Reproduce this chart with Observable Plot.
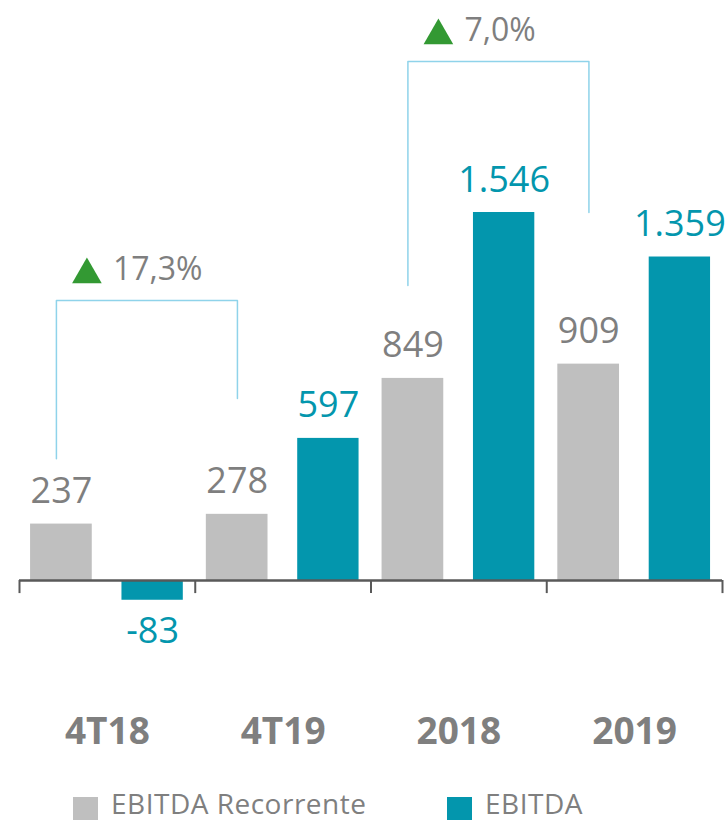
<!DOCTYPE html>
<html>
<head>
<meta charset="utf-8">
<script src="https://cdn.jsdelivr.net/npm/d3@7"></script>
<script src="https://cdn.jsdelivr.net/npm/@observablehq/plot@0.6"></script>
<style>
  html, body { margin: 0; padding: 0; background: #fff; }
  #wrap { position: relative; width: 725px; height: 822px; font-family: "Open Sans", sans-serif; overflow: hidden; }
  #legend { position: absolute; left: 0; top: 792px; height: 22px; width: 725px; }
  .item { position: absolute; top: 0; display: flex; align-items: flex-start; }
  .sw { width: 25px; height: 23px; margin-top: 5px; margin-right: 13px; }
  .lab { font-size: 28px; line-height: 22px; letter-spacing: 0.5px; color: #7f7f7f; white-space: nowrap; }
</style>
</head>
<body>
<div id="wrap">
  <div id="chart"></div>
  <div id="legend"></div>
</div>
<script>
// ---- data ----
const categories = ["4T18", "4T19", "2018", "2019"];
const recorrente = [237, 278, 849, 909];
const ebitda = [-83, 597, 1546, 1359];
const seriesNames = ["EBITDA Recorrente", "EBITDA"];
const seriesColors = ["#bfbfbf", "#0396ad"];
const labelColors = ["#7f7f7f", "#0396ad"];

// growth annotations (brackets)
const growthFrom = ["4T18", "2018"];
const growthTo = ["4T19", "2019"];
const growthLabels = ["17,3%", "7,0%"];
const bracketStartY = [512, 1239];
const bracketTopY = [1176, 2180];
const bracketEndY = [765, 1546];
const growthLabelY = [1264, 2268];

// ---- layout helpers (style) ----
const barSpan = [[0.063, 0.414], [0.583, 0.932]];
const bracketOffset = [0.21, 0.24];

const fmt = d3.formatLocale({decimal: ",", thousands: ".", grouping: [3], minus: "-"}).format(",d");

const rows = [];
categories.forEach((c, i) => {
  [recorrente[i], ebitda[i]].forEach((v, s) => {
    rows.push({cat: c, i, s, value: v});
  });
});

const idx = c => categories.indexOf(c);
const bracketPts = [];
const growth = growthLabels.map((t, k) => {
  const a = idx(growthFrom[k]) + bracketOffset[0];
  const b = idx(growthTo[k]) + bracketOffset[1];
  bracketPts.push({k, x: a, y: bracketStartY[k]});
  bracketPts.push({k, x: a, y: bracketTopY[k]});
  bracketPts.push({k, x: b, y: bracketTopY[k]});
  bracketPts.push({k, x: b, y: bracketEndY[k]});
  return {k, x: (a + b) / 2, y: growthLabelY[k], text: t};
});

const x1 = d => d.i + barSpan[d.s][0];
const x2 = d => d.i + barSpan[d.s][1];
const xc = d => d.i + (barSpan[d.s][0] + barSpan[d.s][1]) / 2;

const chart = Plot.plot({
  width: 725,
  height: 775,
  margin: 0,
  x: {type: "linear", domain: [0, 4], range: [19, 722], axis: null},
  y: {type: "linear", domain: [0, 1546], range: [580, 212], axis: null},
  style: {fontFamily: "Open Sans, sans-serif", overflow: "visible", background: "#fff"},
  marks: [
    Plot.rect(rows, {x1, x2, y1: 0, y2: "value", fill: d => seriesColors[d.s]}),
    Plot.ruleY([0], {x1: 0, x2: 4, stroke: "#595959", strokeWidth: 2.5}),
    Plot.ruleX(d3.range(categories.length + 1), {y1: 0, y2: -55, stroke: "#595959", strokeWidth: 2}),
    Plot.text(rows.filter(d => d.value >= 0), {
      x: xc, y: "value", text: d => fmt(d.value), fill: d => labelColors[d.s],
      fontSize: 36, lineAnchor: "bottom", dy: -21
    }),
    Plot.text(rows.filter(d => d.value < 0), {
      x: xc, y: "value", text: d => fmt(d.value), fill: d => labelColors[d.s],
      fontSize: 36, lineAnchor: "top", dy: 17
    }),
    Plot.text(categories, {
      x: (d, i) => i + 0.5, text: d => d, frameAnchor: "bottom", lineAnchor: "bottom", dy: -32,
      fontSize: 37, fontWeight: "bold", fill: "#7f7f7f"
    }),
    Plot.line(bracketPts, {x: "x", y: "y", z: "k", stroke: "#8fd3ea", strokeWidth: 1.5}),
    Plot.dot(growth, {x: "x", y: "y", symbol: "triangle", r: 11, fill: "#339933", stroke: null, dx: -60, dy: -5}),
    Plot.text(growth, {x: "x", y: "y", text: "text", textAnchor: "start", lineAnchor: "bottom", dx: -34,
      fontSize: 32, fill: "#7f7f7f"})
  ]
});
document.getElementById("chart").appendChild(chart);

// legend
const legend = document.getElementById("legend");
const legendX = [73, 447];
seriesNames.forEach((n, s) => {
  const it = document.createElement("div");
  it.className = "item";
  it.style.left = legendX[s] + "px";
  const sw = document.createElement("div");
  sw.className = "sw";
  sw.style.background = seriesColors[s];
  const lb = document.createElement("div");
  lb.className = "lab";
  lb.textContent = n;
  it.appendChild(sw);
  it.appendChild(lb);
  legend.appendChild(it);
});
</script>
</body>
</html>
